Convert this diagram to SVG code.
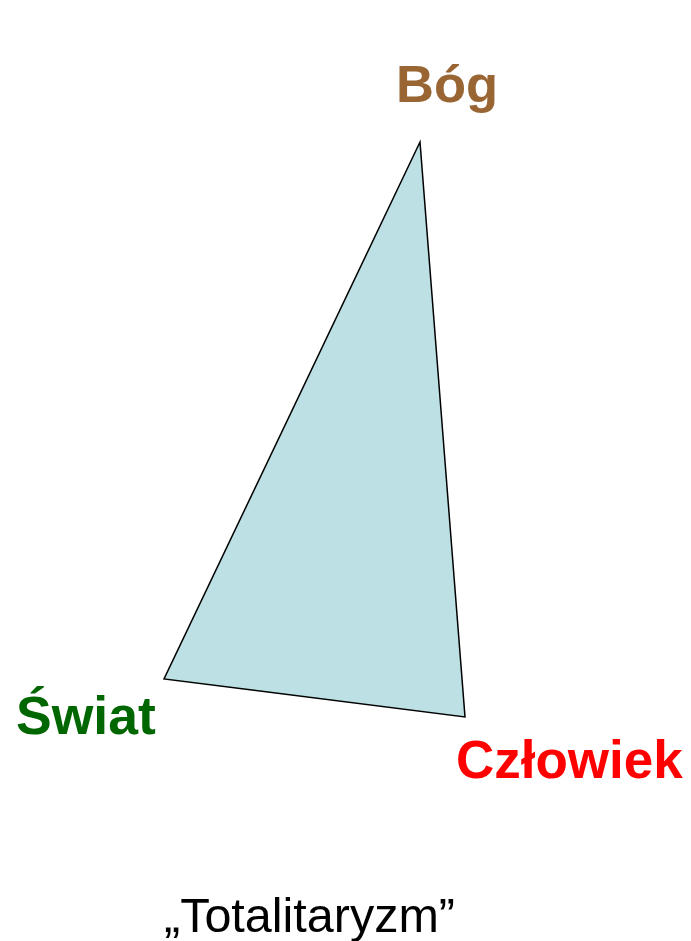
<svg xmlns="http://www.w3.org/2000/svg" width="691" height="941" viewBox="0 0 691 941">
<style>
.lbl{font-family:"Liberation Sans",Arial,sans-serif;font-weight:bold}
.cap{font-family:"Liberation Sans",Arial,sans-serif;font-weight:normal;fill:#000}
</style>
<rect width="691" height="941" fill="#fff"/>
<g id="connectors">
<polygon id="triangle" points="420,142 164,679 465,717" fill="#BCE0E4" stroke="#000" stroke-width="1.5" stroke-linejoin="miter"/>
</g>
<g id="node-bog"><text class="lbl" x="396" y="102" font-size="52.5" fill="#996633">Bóg</text></g>
<g id="node-swiat"><text class="lbl" x="16" y="734" font-size="53.5" fill="#006600">Świat</text></g>
<g id="node-czlowiek"><text class="lbl" x="456" y="778" font-size="53" fill="#FF0000">Człowiek</text></g>
<g id="caption"><text class="cap" x="164" y="932" font-size="48.5">„Totalitaryzm”</text></g>
</svg>
